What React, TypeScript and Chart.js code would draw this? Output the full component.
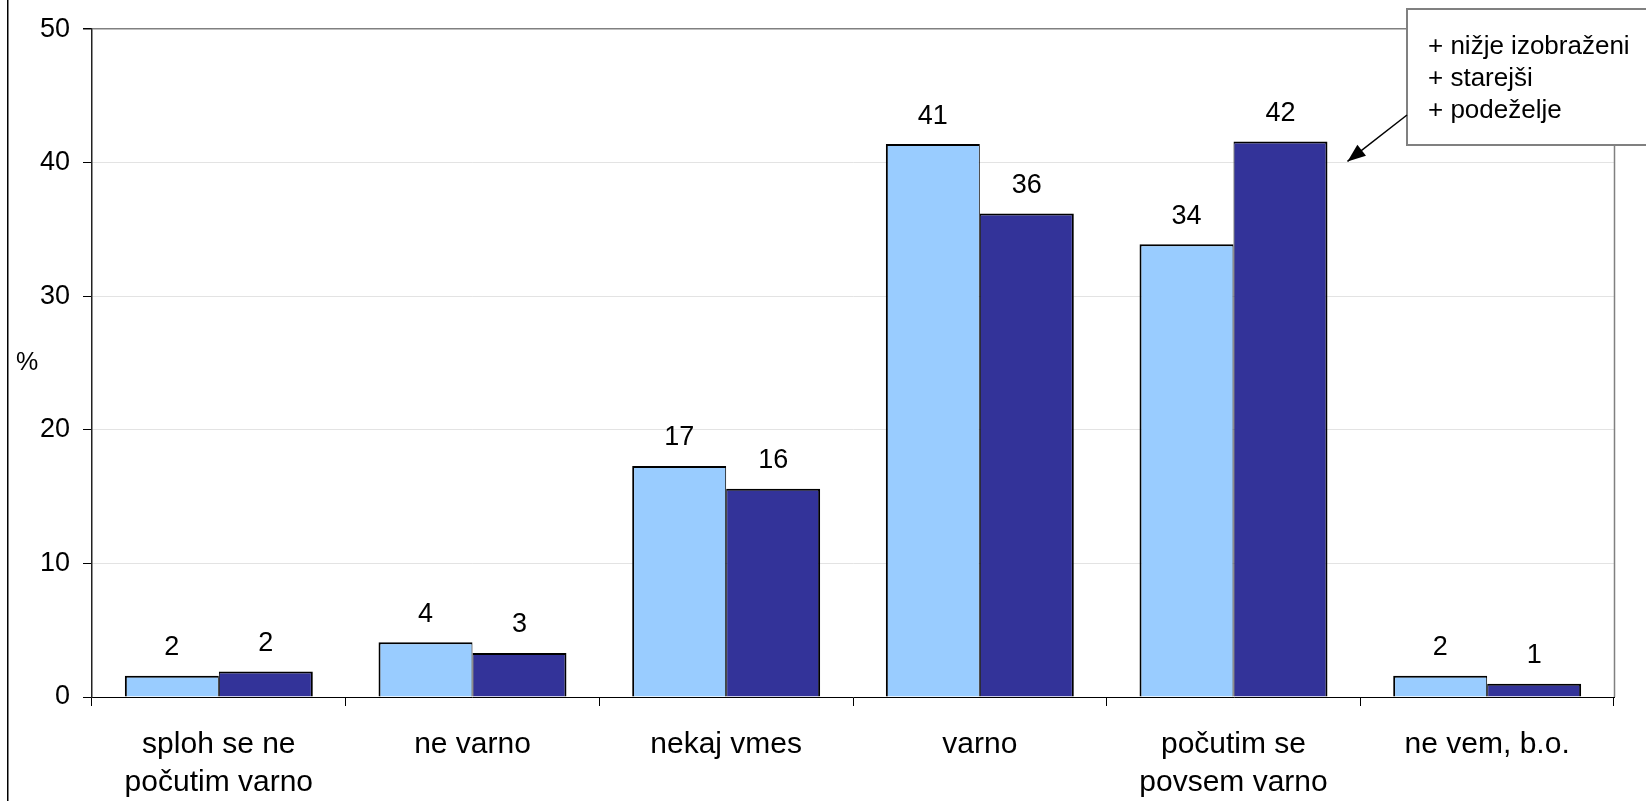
import React, { useEffect, useRef } from 'react';
import { Chart, registerables } from 'chart.js';

Chart.register(...registerables);

const categories: (string | string[])[] = [
  ['sploh se ne', 'počutim varno'],
  'ne varno',
  'nekaj vmes',
  'varno',
  ['počutim se', 'povsem varno'],
  'ne vem, b.o.',
];
const seriesLight = [1.6, 4.1, 17.3, 41.4, 33.9, 1.6];
const seriesDark = [1.9, 3.3, 15.6, 36.2, 41.6, 1.0];
const yMin = 0;
const yMax = 50;
const yStep = 10;
const axisUnit = '%';
const annotationLines = ['+ nižje izobraženi', '+ starejši', '+ podeželje'];

const W = 1646;
const H = 801;
const FONT = '"Liberation Sans", Arial, sans-serif';

const decorPlugin = {
  id: 'decor',
  beforeDraw(chart: any) {
    const ctx = chart.ctx;
    ctx.save();
    ctx.fillStyle = '#ffffff';
    ctx.fillRect(0, 0, W, H);
    ctx.strokeStyle = '#000000';
    ctx.lineWidth = 1.5;
    ctx.beginPath();
    ctx.moveTo(7.75, 0);
    ctx.lineTo(7.75, H);
    ctx.stroke();
    ctx.restore();
  },
  afterDatasetsDraw(chart: any) {
    const ctx = chart.ctx;
    ctx.save();
    ctx.fillStyle = '#000';
    ctx.font = `27px ${FONT}`;
    ctx.textAlign = 'center';
    ctx.textBaseline = 'middle';
    chart.data.datasets.forEach((ds: any, di: number) => {
      const meta = chart.getDatasetMeta(di);
      meta.data.forEach((bar: any, i: number) => {
        const v = ds.data[i];
        ctx.fillText(String(Math.round(v)), bar.x, bar.y - 28);
      });
    });
    ctx.restore();
  },
  afterDraw(chart: any) {
    const ctx = chart.ctx;
    const ca = chart.chartArea;
    ctx.save();
    // right border of plot area
    ctx.strokeStyle = '#808080';
    ctx.lineWidth = 1.5;
    ctx.beginPath();
    ctx.moveTo(Math.round(ca.right) + 0.5, ca.top);
    ctx.lineTo(Math.round(ca.right) + 0.5, ca.bottom);
    ctx.stroke();

    // unit label
    ctx.fillStyle = '#000';
    ctx.font = `25px ${FONT}`;
    ctx.textAlign = 'center';
    ctx.textBaseline = 'middle';
    ctx.fillText(axisUnit, 27, (ca.top + ca.bottom) / 2);

    // annotation box
    const bx = ca.right - 207;
    const by = 9;
    const bw = W - bx + 5;
    const bh = 136;
    ctx.fillStyle = '#ffffff';
    ctx.fillRect(bx, by, bw, bh);
    ctx.strokeStyle = '#808080';
    ctx.lineWidth = 2;
    ctx.strokeRect(bx, by, bw, bh);
    ctx.fillStyle = '#000';
    ctx.font = `26px ${FONT}`;
    ctx.textAlign = 'left';
    ctx.textBaseline = 'middle';
    annotationLines.forEach((t, i) => {
      ctx.fillText(t, bx + 21, by + 38 + i * 31.7);
    });

    // arrow
    const meta = chart.getDatasetMeta(1);
    const bar: any = meta.data[4];
    const tipX = bar.x + bar.width / 2 + 20;
    const tipY = bar.y + 20;
    const sx = bx;
    const sy = by + 106;
    ctx.strokeStyle = '#000';
    ctx.lineWidth = 1.5;
    ctx.beginPath();
    ctx.moveTo(sx, sy);
    ctx.lineTo(tipX, tipY);
    ctx.stroke();
    const ang = Math.atan2(tipY - sy, tipX - sx);
    const len = 18;
    const half = 7;
    const baseX = tipX - len * Math.cos(ang);
    const baseY = tipY - len * Math.sin(ang);
    ctx.fillStyle = '#000';
    ctx.beginPath();
    ctx.moveTo(tipX, tipY);
    ctx.lineTo(baseX + half * Math.sin(ang), baseY - half * Math.cos(ang));
    ctx.lineTo(baseX - half * Math.sin(ang), baseY + half * Math.cos(ang));
    ctx.closePath();
    ctx.fill();
    ctx.restore();
  },
};

export default function App() {
  const ref = useRef<HTMLCanvasElement | null>(null);

  useEffect(() => {
    if (!ref.current) return;
    const chart = new Chart(ref.current, {
      type: 'bar',
      data: {
        labels: categories as any,
        datasets: [
          {
            label: 'A',
            data: seriesLight,
            backgroundColor: '#99CCFF',
            borderColor: '#000000',
            borderWidth: { top: 2, left: 2, right: 1, bottom: 0 } as any,
            borderSkipped: false,
          },
          {
            label: 'B',
            data: seriesDark,
            backgroundColor: '#333399',
            borderColor: '#000000',
            borderWidth: { top: 2, left: 1, right: 2, bottom: 0 } as any,
            borderSkipped: false,
          },
        ],
      },
      options: {
        responsive: false,
        animation: false,
        devicePixelRatio: 1,
        layout: { padding: { left: 8, right: 32, top: 28, bottom: 0 } },
        datasets: { bar: { categoryPercentage: 0.741, barPercentage: 1 } },
        plugins: {
          legend: { display: false },
          tooltip: { enabled: false },
        },
        scales: {
          x: {
            grid: {
              display: true,
              drawOnChartArea: false,
              offset: true,
              tickLength: 9,
              tickColor: '#000',
              lineWidth: 1,
            },
            border: { color: '#000', width: 1 },
            ticks: {
              color: '#000',
              font: { family: FONT, size: 30, lineHeight: 38 / 30 },
              padding: 20,
              maxRotation: 0,
              autoSkip: false,
            },
            afterFit(scale: any) {
              scale.height = 104;
            },
          },
          y: {
            min: yMin,
            max: yMax,
            grid: {
              color: (c: any) => (c.tick && c.tick.value === yMax ? '#808080' : '#e3e3e3'),
              lineWidth: (c: any) => (c.tick && c.tick.value === yMax ? 1.5 : 1),
              tickLength: 9,
              tickColor: '#000',
            },
            border: { color: '#222', width: 1.5 },
            ticks: {
              stepSize: yStep,
              color: '#000',
              font: { family: FONT, size: 27 },
              padding: 13,
            },
            afterFit(scale: any) {
              scale.width = 84;
            },
          },
        },
      },
      plugins: [decorPlugin],
    });
    return () => chart.destroy();
  }, []);

  return (
    <div style={{ position: 'absolute', left: 0, top: 0, width: W, height: H }}>
      <canvas ref={ref} width={W} height={H} style={{ display: 'block', width: W, height: H }} />
    </div>
  );
}
